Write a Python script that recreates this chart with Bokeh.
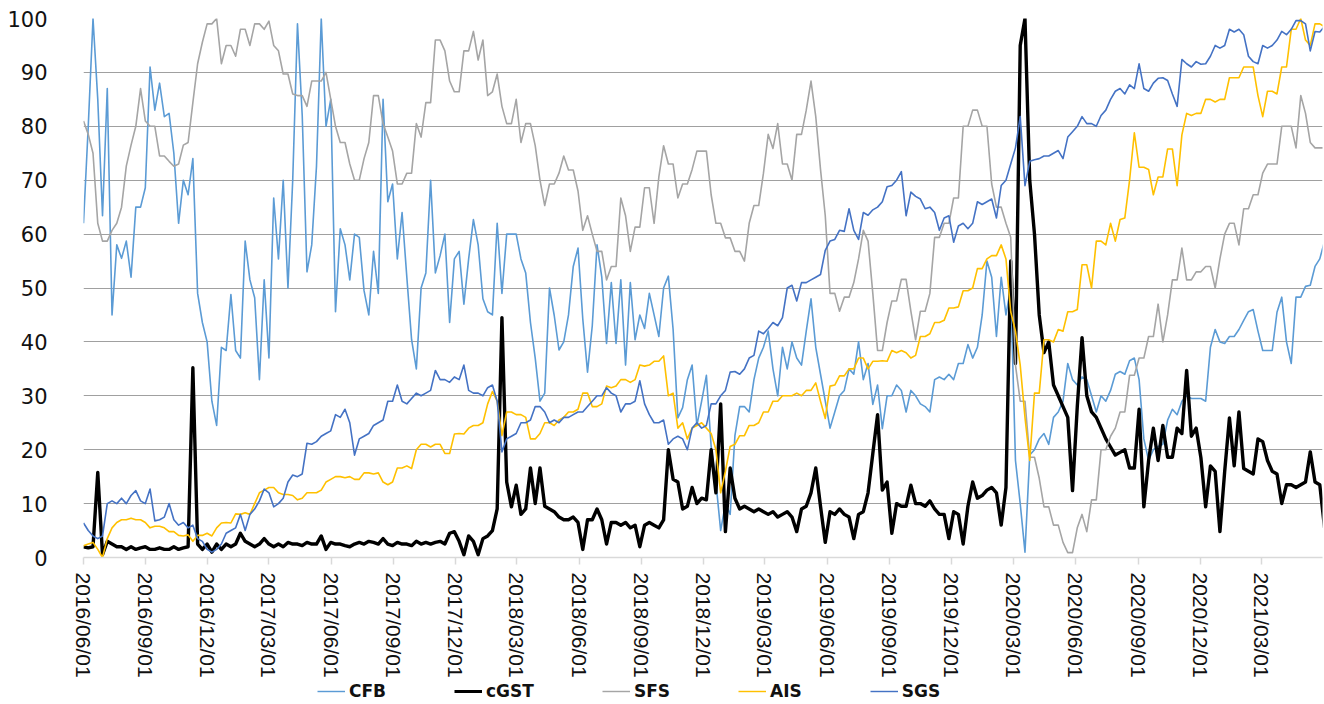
import pandas as pd
from bokeh.plotting import figure
from bokeh.layouts import column
from bokeh.models import (ColumnDataSource, FixedTicker, DatetimeTickFormatter,
                          Range1d, Legend, LegendItem)
from bokeh.embed import file_html
from bokeh.resources import INLINE

# ---------------- data (weekly observations from 2016/06/01) ----------------
dates = pd.date_range("2016-06-01", periods=262, freq="7D")

tick_labels = ["2016/06/01", "2016/09/01", "2016/12/01", "2017/03/01", "2017/06/01",
               "2017/09/01", "2017/12/01", "2018/03/01", "2018/06/01", "2018/09/01",
               "2018/12/01", "2019/03/01", "2019/06/01", "2019/09/01", "2019/12/01",
               "2020/03/01", "2020/06/01", "2020/09/01", "2020/12/01", "2021/03/01"]

series_names = ["CFB", "cGST", "SFS", "AIS", "SGS"]

CFB = [62, 80, 100, 85, 63.4, 87, 45, 58, 55.5, 58.7,
       52, 65, 65, 68.6, 91, 83, 88, 81.8, 82.4, 75,
       62, 70, 67.3, 74, 49, 43.6, 40, 29, 24.5, 39,
       38.4, 48.8, 38.4, 37, 58.7, 51.5, 48.2, 33, 51.5, 37,
       66.7, 55.4, 70, 50, 70, 99, 82, 53, 58, 72.6,
       100, 80, 85, 45.6, 61, 58, 51.5, 60, 59.4, 49.5,
       45, 56.8, 49, 85, 66, 69.3, 55.4, 64, 52, 40.4,
       35, 50, 52.8, 70, 52.8, 56, 60, 43.6, 55.4, 56.8,
       47, 55.4, 62.7, 58, 48, 45.6, 45, 62, 49, 60,
       60, 60, 55.4, 52.8, 43.6, 37, 29, 30.5, 50, 44.9,
       38.5, 40, 45, 54, 57.4, 44.3, 34.4, 43, 58, 52,
       39.7, 51, 39.7, 51.5, 35.7, 51, 40.4, 45, 42.5, 49,
       45, 41, 50, 52.2, 42.3, 25.9, 27.8, 33, 35.7, 24.5,
       29, 33.8, 20.6, 14, 5, 10, 8, 22.6, 28, 28,
       27, 33, 37, 39, 42, 35, 30, 39, 35, 40,
       37, 35.7, 42, 48, 39, 34, 29, 24, 27, 30,
       31, 35, 34, 40, 33, 36, 28.4, 32, 23.9, 30,
       30, 32, 31, 27, 31, 30, 28.5, 28, 27, 33,
       33.5, 33, 34, 33, 36, 36, 39.5, 37, 39, 45,
       55, 52, 41, 52, 45, 50, 18, 10, 1, 19,
       20, 22, 23, 21, 26, 27, 29, 36, 33, 32,
       33.5, 33, 30, 27, 30, 29, 31, 34, 34.5, 34,
       36.5, 37, 33, 22, 18, 20, 20.6, 21, 25.5, 27.5,
       26.5, 29, 30, 29.5, 29.5, 29.5, 29, 39, 42.3, 40,
       39.7, 41, 41, 42.3, 44, 45.6, 46, 42, 38.4, 38.4,
       38.4, 45.5, 48.3, 40, 36, 48.3, 48.3, 50.3, 50.5, 54,
       55.4, 58.7]

cGST = [2, 1.8, 2, 15.8, 0.5, 3, 2.5, 2, 2, 1.5,
        2, 1.5, 1.8, 2, 1.5, 1.5, 1.8, 1.5, 1.5, 2,
        1.5, 1.8, 2, 35.2, 2.5, 1.5, 2.5, 1, 2.5, 1.5,
        2.5, 2, 2.5, 4.5, 3, 2.5, 2, 2.5, 3.5, 2.5,
        2, 2.5, 2, 2.8, 2.5, 2.5, 2.2, 2.8, 2.5, 2.5,
        4, 1.5, 2.8, 2.5, 2.5, 2.2, 2, 2.5, 2.8, 2.5,
        3, 2.8, 2.5, 3.5, 2.5, 2.2, 2.8, 2.5, 2.5, 2.2,
        3, 2.5, 2.8, 2.5, 2.8, 3, 2.5, 4.5, 4.8, 3,
        0.5, 4, 3, 0.5, 3.5, 4, 5, 9, 44.5, 14,
        9.4, 13.4, 8, 9, 16.6, 10, 16.6, 9.5, 9, 8.5,
        7.5, 7, 7, 7.5, 6.5, 1.5, 7, 7, 9, 7,
        2.5, 6.5, 6.5, 6, 6.5, 5.5, 6, 2, 6, 6.5,
        6, 5.5, 7, 20, 14.5, 14, 9, 9.5, 13, 10,
        11, 10.7, 20, 12, 28.5, 4.8, 16.6, 11, 9, 9.5,
        9, 8.5, 9, 8.5, 8, 8.5, 7.5, 8, 8.5, 7.5,
        4.8, 9, 9.5, 12, 16.6, 9.5, 2.8, 8.5, 8, 9,
        8, 7.5, 3.5, 8, 8.5, 12, 19.3, 26.5, 12.5, 14,
        4.5, 10, 9.5, 9.5, 13.4, 10, 10, 9.5, 10.5, 9,
        8, 8, 3.5, 8.5, 8, 2.5, 9.5, 14, 11, 11.5,
        12.5, 13, 12, 6, 13, 55, 36, 95, 100, 70,
        60, 45, 38, 40, 32, 30, 28, 26, 12.4, 28,
        40.8, 30, 27, 26, 24, 22, 20.5, 19, 19.5, 20,
        16.6, 16.6, 27.5, 9.4, 18, 24, 18, 24.5, 18.6, 18.6,
        24, 23, 34.7, 22.5, 24, 18.5, 9.4, 17, 16, 4.8,
        16, 25.9, 17, 27, 16.5, 16, 15.5, 22, 21.5, 18,
        16, 15.5, 10, 13.5, 13.5, 13, 13.5, 14, 19.6, 14,
        13.5, 5.5]

SFS = [81, 78.5, 75, 62, 58.7, 58.7, 60.7, 62, 65, 72.6,
       76.5, 80, 87, 81, 80, 80, 74.5, 74.5, 73.5, 72.6,
       73, 76.5, 77, 84.4, 91.6, 95.6, 99, 99, 100, 91.6,
       95, 95, 93, 98, 98, 95, 99, 99, 98, 99.5,
       95, 94, 89.7, 89.7, 86, 85.7, 85.7, 83.7, 88.4, 88.4,
       88.4, 90, 85, 80, 77, 77, 73, 70, 70, 74,
       77, 85.7, 85.7, 80.5, 78, 75.4, 69.3, 69.3, 71.3, 71.3,
       80.5, 78, 84.4, 84.4, 96, 96, 94, 88.4, 86.4, 86.4,
       94, 94, 97.6, 92.3, 96, 85.7, 86.4, 89.7, 83.7, 80.5,
       80.5, 85, 77, 80.5, 80.5, 76.4, 70, 65.3, 69.3, 69.3,
       71.3, 74.5, 71.9, 71.9, 68, 60.7, 63.4, 60, 56.8, 56.8,
       51.5, 54, 54, 66.7, 63.4, 56.8, 61.3, 61.3, 68.6, 68.6,
       62, 70.6, 76.4, 73, 73, 66.7, 69.3, 69.3, 72, 75.4,
       75.4, 75.4, 67.3, 62, 62, 59.3, 59.3, 56.8, 56.8, 55,
       62, 65.3, 65.3, 71.3, 78.5, 75.9, 80.5, 73, 73, 70,
       78.5, 78.5, 83, 88.4, 81.8, 72, 63.4, 49, 49, 45.7,
       48.3, 48.3, 51, 55.4, 60.7, 58.7, 49, 38.4, 38.4, 43.6,
       47.6, 47.6, 51.6, 51.6, 45.7, 40.4, 45.7, 45.7, 49, 59.4,
       59.4, 62, 62, 66.7, 66.7, 80, 80, 83, 83, 80,
       80, 69.3, 65, 65, 62, 59.4, 35.7, 29, 29, 18.6,
       18.6, 14.7, 9.4, 9.4, 6, 6, 2.8, 0.9, 0.9, 5.5,
       8, 4.8, 10.7, 10.7, 20, 20, 22.5, 24, 27, 27,
       33.8, 33.8, 37, 37, 41, 41, 47, 40, 45, 51.5,
       51.5, 57.4, 51.5, 51.5, 53, 53, 54, 54, 50, 55.4,
       60, 62, 62, 58, 64.7, 64.7, 67.3, 67.3, 71.3, 73,
       73, 73, 80, 80, 80, 76, 85.7, 82.4, 77, 76,
       76, 76]

AIS = [2.2, 2.5, 2.8, 1.5, 0, 3.5, 5.5, 6.5, 7, 7,
       7.3, 7, 7, 6.5, 5.5, 5.8, 5.8, 5.5, 4.8, 4.8,
       4.1, 4, 4.2, 3, 4.1, 4.1, 4.5, 4, 5.5, 6.4,
       6.5, 6.4, 8.1, 8, 8.3, 8, 10, 12, 12.5, 13,
       13, 12, 11.7, 11.7, 11.5, 10.7, 11, 12, 12, 12,
       12.5, 14, 14.5, 15, 15, 14.8, 15, 14.5, 14.5, 15.7,
       15.7, 15.5, 15.7, 14, 13.5, 14, 16.6, 16.6, 17, 16.5,
       20, 21, 21, 20.5, 21, 21, 19.3, 19.3, 22.9, 23,
       22.9, 24, 24.5, 24.5, 25, 28.5, 30.8, 29, 22.6, 27,
       27, 26.5, 26.5, 26, 22, 22, 23, 25, 25, 24.5,
       25.5, 26, 27, 27, 27.5, 30.5, 30.5, 28, 28, 28.5,
       31.8, 31.5, 31.8, 33, 33, 32.5, 33, 35.7, 35.5, 35.7,
       36.4, 36.4, 37.4, 30, 30.5, 24, 25, 22, 24, 24.5,
       25, 24, 23, 20, 12, 16, 20.6, 21, 22.6, 22.6,
       24.5, 24.5, 25, 27, 27, 29, 29, 30, 30, 30,
       30.5, 30, 31, 31, 32.4, 29, 25.8, 31.8, 32, 33.7,
       33.7, 35, 35, 37, 37, 35, 36.4, 36.4, 36.5, 36.4,
       38.4, 38, 38.4, 38, 37, 37.5, 41, 41, 41.5, 43.6,
       43.6, 44, 46.3, 46.3, 46.5, 49.5, 49.5, 50, 53.6, 53.6,
       55.4, 56, 56, 58, 55.4, 45.6, 42, 35.7, 26, 18,
       30.5, 30.5, 40.4, 40.4, 40, 42.3, 42, 45.6, 45.6, 46,
       54.3, 54.3, 50, 58.7, 58.7, 58, 62, 58.7, 62.7, 63,
       70, 78.8, 72.4, 72.4, 72, 67.3, 70.6, 70.6, 75.8, 75.8,
       69, 78.4, 82.4, 82, 82.4, 82.4, 85, 85, 84.5, 85,
       85, 89, 89, 89, 91, 91, 91, 85.7, 81.8, 86.5,
       86.5, 86, 91, 91, 98, 98, 100, 96, 95, 99,
       99, 98.5]

SGS = [6.4, 5, 4, 3.5, 4, 10, 10.5, 10, 11, 10,
       11.5, 12.4, 10.5, 10, 12.7, 6.8, 7, 7.5, 10, 7,
       6, 6.5, 5.5, 6, 3.5, 3, 1.5, 1, 1.5, 2.5,
       4.5, 5, 5.5, 8, 5, 8, 9, 10.5, 12.7, 12,
       9.4, 10, 11, 14, 15.3, 15, 15.5, 21.2, 21, 21.5,
       22.5, 23, 23.5, 26.5, 26, 27.5, 25, 19, 22, 22.5,
       23, 24.5, 25, 25.5, 29, 29, 32, 29, 28.5, 29.5,
       30.5, 30, 30.5, 31, 34.7, 33, 33, 32.5, 33.5, 33,
       35.7, 31, 30.5, 30.5, 30, 31.5, 32, 29, 19.6, 22,
       22.5, 23, 25, 25, 25.5, 28, 28, 27, 25, 25.5,
       25, 26, 26, 26.5, 27, 27, 28, 29, 30, 30,
       31.5, 30.5, 30, 27, 28.5, 28.5, 29, 32.8, 28.5, 26.5,
       25, 25, 25.5, 21, 22, 22.5, 22, 20, 24, 25,
       24, 24.5, 28.5, 28.5, 30, 31, 34.4, 34.5, 34, 35,
       37, 37.5, 42, 41.5, 42.5, 43.6, 43, 44.5, 50, 50.5,
       47.6, 51, 51, 51.5, 52, 52.5, 57, 58.7, 59, 60.7,
       60.5, 64.7, 60.7, 59, 64, 63.5, 64.5, 65, 66, 68.8,
       69, 70, 71.6, 63.4, 67.8, 67, 66.5, 64.7, 65, 64,
       60.7, 63, 63.4, 58.5, 61.5, 62, 61, 62, 66, 65.5,
       66, 66.5, 63, 69, 70, 73, 76, 81.8, 69, 73.5,
       73.8, 74, 74.5, 74.5, 75, 75.5, 74, 78, 79, 80,
       81.8, 80.5, 80.5, 80, 82, 83, 85, 86.5, 87, 86,
       87.7, 87, 91.6, 87, 86.5, 88, 88.9, 89, 88.5, 86,
       83.7, 92.4, 91.6, 91, 92, 91.5, 91.6, 93, 95, 94.5,
       95, 98, 97.5, 98, 97, 93, 92, 91.6, 95, 94.5,
       95, 96, 97.6, 97, 98, 99.6, 99.6, 99, 94, 97.6,
       97.5, 98.5]

colors = {"CFB": "#5B9BD5", "cGST": "#000000", "SFS": "#A5A5A5",
          "AIS": "#FFC000", "SGS": "#4472C4"}
widths = {"CFB": 1.6, "cGST": 3.4, "SFS": 1.6, "AIS": 1.6, "SGS": 1.6}

source = ColumnDataSource(data=dict(date=dates, CFB=CFB, cGST=cGST, SFS=SFS, AIS=AIS, SGS=SGS))

# ---------------- main chart ----------------
p = figure(width=1324, height=680, x_axis_type="datetime",
           x_range=Range1d(pd.Timestamp("2016-06-01"), pd.Timestamp("2021-05-30")),
           y_range=Range1d(0, 100),
           output_backend="svg", toolbar_location=None,
           min_border_left=83, min_border_right=2, min_border_top=18, min_border_bottom=123)
p.outline_line_color = None
p.background_fill_color = "white"

for name in series_names:
    p.line("date", name, source=source, color=colors[name],
           line_width=widths[name], line_join="round")

p.xgrid.grid_line_color = None
p.ygrid.grid_line_color = "#A0A0A0"
p.ygrid.grid_line_width = 1

p.yaxis.ticker = FixedTicker(ticks=list(range(0, 101, 10)))
p.yaxis.axis_line_color = None
p.yaxis.major_tick_line_color = None
p.yaxis.minor_tick_line_color = None
p.yaxis.major_label_standoff = 30
p.yaxis.major_label_text_font = "DejaVu Sans"
p.yaxis.major_label_text_font_size = "21px"
p.yaxis.major_label_text_color = "#111111"

tick_ms = [pd.Timestamp(t.replace("/", "-")).value // 10**6 for t in tick_labels]
p.xaxis.ticker = FixedTicker(ticks=tick_ms)
fmt = "%Y/%m/%d"
p.xaxis.formatter = DatetimeTickFormatter(days=fmt, months=fmt, years=fmt, hours=fmt,
                                          minutes=fmt, seconds=fmt, milliseconds=fmt)
p.xaxis.major_label_orientation = "vertical"
p.xaxis.axis_line_color = "#D9D9D9"
p.xaxis.axis_line_width = 1.5
p.xaxis.major_tick_line_color = "#D9D9D9"
p.xaxis.major_tick_line_width = 1.5
p.xaxis.major_tick_out = 7
p.xaxis.major_tick_in = 0
p.xaxis.minor_tick_line_color = None
p.xaxis.major_label_standoff = 8
p.xaxis.major_label_text_font = "Liberation Sans"
p.xaxis.major_label_text_font_size = "21px"
p.xaxis.major_label_text_color = "#111111"

# ---------------- legend strip ----------------
lg = figure(width=1324, height=24, output_backend="svg", toolbar_location=None,
            x_range=Range1d(0, 1), y_range=Range1d(0, 1),
            min_border_left=0, min_border_right=0, min_border_top=0, min_border_bottom=0)
lg.axis.visible = False
lg.grid.visible = False
lg.outline_line_color = None

items = []
for name in series_names:
    # proxy renderers placed outside the visible range; only their legend swatch shows
    r = lg.line(x=[5, 6], y=[5, 6], color=colors[name], line_width=widths[name] * 0.9)
    items.append(LegendItem(label=name, renderers=[r]))

legend = Legend(items=items, location=(234, 3), orientation="horizontal",
                spacing=68, glyph_width=28, glyph_height=18, label_height=18,
                label_standoff=4, padding=0, margin=0,
                border_line_alpha=0, background_fill_alpha=0,
                label_text_font="DejaVu Sans", label_text_font_style="bold",
                label_text_font_size="17px", label_text_color="#111111")
lg.add_layout(legend, "center")

layout = column(p, lg, spacing=0)
open("out.html", "w").write(file_html(layout, INLINE))
